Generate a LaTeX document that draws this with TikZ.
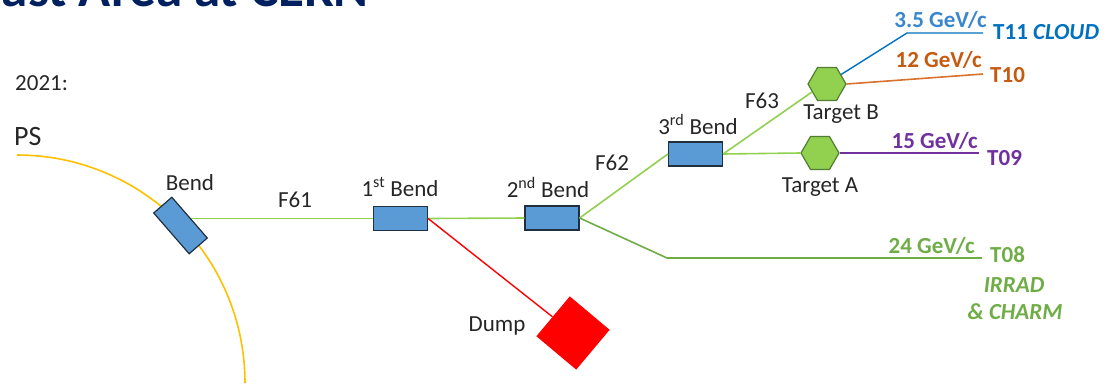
\documentclass[tikz,border=0pt]{standalone}
\usepackage{fontspec}
\setmainfont{Carlito}
\usetikzlibrary{shapes.geometric,backgrounds}
\definecolor{boxblue}{HTML}{5B9BD5}
\definecolor{boxedge}{HTML}{203040}
\definecolor{beamgreen}{HTML}{92D050}
\definecolor{dkgreen}{HTML}{70AD47}
\definecolor{hexedge}{HTML}{507E32}
\definecolor{psyellow}{HTML}{FFC000}
\definecolor{lblue}{HTML}{0070C0}
\definecolor{lblue2}{HTML}{3A86CC}
\definecolor{lorange}{HTML}{C55A11}
\definecolor{lineorange}{HTML}{D9712E}
\definecolor{lpurple}{HTML}{7030A0}
\definecolor{titleblue}{HTML}{002060}
\definecolor{txt}{HTML}{262626}
\begin{document}
\begin{tikzpicture}[x=1pt,y=-1pt,
  lbl/.style={font=\fontsize{23}{26}\selectfont, text=txt, inner sep=0},
  blbl/.style={font=\fontsize{23}{26}\selectfont\bfseries, inner sep=0},
  magnet/.style={draw=boxedge, fill=boxblue, line width=1.2pt, minimum width=54pt, minimum height=24pt, inner sep=0},
  target/.style={regular polygon, regular polygon sides=6, draw=hexedge, fill=beamgreen, line width=1.2pt, minimum size=38pt, inner sep=0},
  beam/.style={draw=beamgreen, line width=1.6pt},
  beamdk/.style={draw=dkgreen, line width=1.6pt}]
\useasboundingbox (0,0) rectangle (1109,384);
\clip (0,0) rectangle (1109,384);

% title (cut off at top)
\node[anchor=base east, font=\fontsize{53}{60}\selectfont\bfseries, text=titleblue, inner sep=0] (title) at (369,6) {East Area at CERN};

\node[lbl, anchor=west] (year) at (15,83) {2021:};
\node[lbl, font=\fontsize{28}{30}\selectfont, anchor=west] (ps) at (14,137) {PS};

% PS ring
\draw[psyellow, line width=1.6pt] (17,155) arc[start angle=-90, end angle=0, radius=228];

% magnets and elements
\node[magnet, rotate=-49] (bend) at (180.5,225.5) {};
\node[magnet] (b1) at (400.5,218.5) {};
\node[magnet] (b2) at (552,218) {};
\node[magnet] (b3) at (695.5,154) {};
\node[target] (ta) at (820,153) {};
\node[target] (tb) at (827,84) {};
\node[draw=none, fill=red, minimum size=52pt, inner sep=0, rotate=-40] (dump) at (573,333) {};

\coordinate (t08k) at (667,258);
\coordinate (t08e) at (982,258);
\coordinate (t11k) at (907,33);
\coordinate (t11e) at (983,33);
\coordinate (t10e) at (983,74);
\coordinate (t09e) at (979,153);

\begin{pgfonlayer}{background}
\draw[beam] (b1.west) -- (b1.west -| bend.center);
\end{pgfonlayer}
\draw[beam] (b1.east) -- (b2.west);
\draw[red, line width=1.4pt] (b1.east) -- (dump);
\draw[beam] (b2.east) -- (b3.west);
\draw[beamdk] (b2.east) -- (t08k) -- (t08e);
\draw[beam] (b3.east) -- (ta.west);
\draw[beam] (b3.east) -- (tb.208);
\draw[lblue, line width=1.4pt] (tb.34) -- (t11k) -- (t11e);
\draw[lineorange, line width=1.6pt] (tb.east) -- (t10e);
\draw[lpurple, line width=1.6pt] (ta.east) -- (t09e);

% labels
\node[lbl] (lbend) at (190,183) {Bend};
\node[lbl] (lf61) at (295,200) {F61};
\node[lbl] (lb1) at (400,187) {1\textsuperscript{st} Bend};
\node[lbl] (lb2) at (548,187) {2\textsuperscript{nd} Bend};
\node[lbl] (lf62) at (612,163) {F62};
\node[lbl] (lb3) at (698,124) {3\textsuperscript{rd} Bend};
\node[lbl] (lf63) at (762,101) {F63};
\node[lbl] (ltb) at (841,114) {Target B};
\node[lbl] (lta) at (820,187) {Target A};
\node[lbl] (ldump) at (497,326) {Dump};

\node[blbl, text=lblue2, anchor=base east] (p11) at (987,27) {3.5 GeV/c};
\node[blbl, text=lblue, anchor=base west] (n11) at (993,39) {T11 \textit{CLOUD}};
\node[blbl, text=lorange, anchor=base east] (p10) at (982,67) {12 GeV/c};
\node[blbl, text=lorange, anchor=base west] (n10) at (990,82) {T10};
\node[blbl, text=lpurple, anchor=base east] (p09) at (978,148) {15 GeV/c};
\node[blbl, text=lpurple, anchor=base west] (n09) at (987,165) {T09};
\node[blbl, text=dkgreen, anchor=base east] (p08) at (975,253) {24 GeV/c};
\node[blbl, text=dkgreen, anchor=base west] (n08) at (990,262) {T08};
\node[blbl, text=dkgreen, font=\fontsize{23}{26}\selectfont\bfseries\itshape] (irr) at (1014,285) {IRRAD};
\node[blbl, text=dkgreen, font=\fontsize{23}{26}\selectfont\bfseries\itshape] (charm) at (1015,312) {\& CHARM};
\end{tikzpicture}
\end{document}
